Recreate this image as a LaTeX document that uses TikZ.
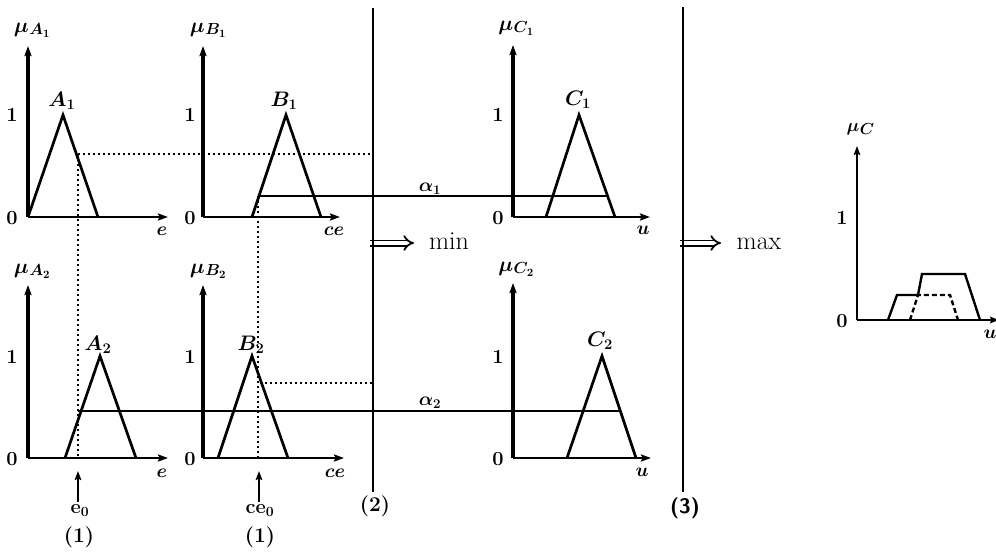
\RequirePackage{fix-cm}
\documentclass[tikz,border=0pt]{standalone}
\usetikzlibrary{arrows.meta}
\newcommand\mulab[2]{$\mu$\kern0.5pt\raisebox{-2.5pt}{\fontsize{16}{18}\selectfont$#1_{#2}$}}
\begin{document}
\begin{tikzpicture}[x=1pt,y=-1pt,
  yaxis/.style={line width=3.2pt,-{Stealth[length=10pt,width=7pt,inset=1.5pt]}},
  xaxis/.style={line width=2.6pt,-{Stealth[length=10pt,width=7pt,inset=1.5pt]}},
  smallaxis/.style={line width=2.4pt,-{Stealth[length=9pt,width=6.5pt,inset=1.5pt]}},
  mf/.style={line width=2.7pt,line join=miter},
  cut/.style={line width=2.2pt},
  guide/.style={line width=2.3pt,dash pattern=on 2.4pt off 2.6pt},
  sep/.style={line width=2.8pt},
  implies/.style={line width=1.8pt,double distance=3.4pt,-{Implies[length=7pt]}},
  inarrow/.style={line width=2.4pt,-{Stealth[length=9pt,width=6.5pt,inset=1.5pt]}},
  mu/.style={inner sep=0pt,font=\fontsize{21}{23}\selectfont\boldmath},
  num/.style={inner sep=0pt,font=\fontsize{20}{22}\selectfont\bfseries},
  ax/.style={inner sep=0pt,font=\fontsize{19}{21}\selectfont\boldmath},
  setname/.style={inner sep=0pt,font=\fontsize{21}{23}\selectfont\boldmath},
  alph/.style={inner sep=0pt,font=\fontsize{19}{21}\selectfont\boldmath},
  big/.style={inner sep=0pt,font=\fontsize{26}{29}\selectfont},
  paren/.style={inner sep=0pt,font=\fontsize{21}{23}\selectfont\bfseries}]
\fill[white] (0,0) rectangle (996,554);
\useasboundingbox (0,0) rectangle (996,554);

% ---------- coordinates ----------
% panel A1
\coordinate (A1o) at (28,217); \coordinate (A1t) at (28,46); \coordinate (A1e) at (168,217);
\coordinate (A1l) at (28,217); \coordinate (A1p) at (63,115); \coordinate (A1r) at (98,217);
% panel B1
\coordinate (B1o) at (203,217); \coordinate (B1t) at (203,46); \coordinate (B1e) at (340,217);
\coordinate (B1l) at (252,217); \coordinate (B1p) at (286,115); \coordinate (B1r) at (321,217);
% panel C1
\coordinate (C1o) at (513,217); \coordinate (C1t) at (513,45); \coordinate (C1e) at (650,217);
\coordinate (C1l) at (546,217); \coordinate (C1p) at (579,115); \coordinate (C1r) at (615,217);
% panel A2
\coordinate (A2o) at (28,458); \coordinate (A2t) at (28,285); \coordinate (A2e) at (168,458);
\coordinate (A2l) at (65,458); \coordinate (A2p) at (100,356); \coordinate (A2r) at (136,458);
% panel B2
\coordinate (B2o) at (203,458); \coordinate (B2t) at (203,285); \coordinate (B2e) at (344,458);
\coordinate (B2l) at (218,458); \coordinate (B2p) at (252,356); \coordinate (B2r) at (288,458);
% panel C2
\coordinate (C2o) at (513,458); \coordinate (C2t) at (513,283); \coordinate (C2e) at (651,458);
\coordinate (C2l) at (567,458); \coordinate (C2p) at (602,356); \coordinate (C2r) at (636,458);
% panel C
\coordinate (Co) at (857,320); \coordinate (Ct) at (857,146); \coordinate (Ce) at (999,320);

% separators
\coordinate (S2t) at (373,8); \coordinate (S2b) at (373,492);
\coordinate (S3t) at (683,7); \coordinate (S3b) at (683,492);

% implication arrows
\coordinate (m2s) at (370,243); \coordinate (m2e) at (414,243);
\coordinate (m3s) at (680,243); \coordinate (m3e) at (721,243);

% guides
\coordinate (gA1) at (78,154); \coordinate (gA1r) at (373,154); \coordinate (gA2) at (78,458);
\coordinate (gB1) at (258,196); \coordinate (gB2) at (258,458);
\coordinate (gB2h) at (260,383); \coordinate (gB2hr) at (373,383);
\coordinate (al1e) at (607,196);
\coordinate (al2s) at (78,411); \coordinate (al2e) at (620,411);

% input arrows
\coordinate (e0b) at (78,502); \coordinate (e0t) at (78,471);
\coordinate (ce0b) at (259,502); \coordinate (ce0t) at (259,471);

% ---------- axes ----------
\foreach \p in {A1,B1,C1,A2,B2,C2}{
  \draw[yaxis] (\p o) -- (\p t);
  \draw[xaxis] (\p o) -- (\p e);
}
\draw[smallaxis] (Co) -- (Ct);
\draw[smallaxis] (Co) -- (Ce);

% ---------- triangles ----------
\foreach \p in {A1,B1,C1,A2,B2,C2}{
  \draw[mf] (\p l) -- (\p p) -- (\p r);
}

% ---------- guides ----------
\draw[guide] (gA1) -- (gA1r);
\draw[guide] (gA1) -- (gA2);
\draw[guide] (gB1) -- (gB2);
\draw[guide] (gB2h) -- (gB2hr);

% ---------- alpha cuts ----------
\draw[cut] (gB1) -- (al1e);
\draw[cut] (al2s) -- (al2e);

% ---------- implication arrows ----------
\draw[implies] (m2s) -- (m2e);
\draw[implies] (m3s) -- (m3e);

% ---------- separators ----------
\draw[sep] (S2t) -- (S2b);
\draw[sep] (S3t) -- (S3b);

% ---------- input arrows ----------
\draw[inarrow] (e0b) -- (e0t);
\draw[inarrow] (ce0b) -- (ce0t);

% ---------- aggregated output ----------
\draw[mf,line width=2.4pt] (888,320) -- (897,295) -- (918,295) -- (922,274) -- (965,274) -- (980,320);
\draw[mf,line width=2.4pt,dash pattern=on 5pt off 3pt] (910,320) -- (918,295) -- (950,295) -- (958,320);

% ---------- labels ----------
\node[mu] (muA1) at (32,30) {\mulab{A}{1}};
\node[mu] (muB1) at (208,30) {\mulab{B}{1}};
\node[mu] (muC1) at (516,28) {\mulab{C}{1}};
\node[mu] (muA2) at (32,271) {\mulab{A}{2}};
\node[mu] (muB2) at (208,271) {\mulab{B}{2}};
\node[mu] (muC2) at (516,269) {\mulab{C}{2}};
\node[mu,font=\fontsize{18}{20}\selectfont\boldmath] (muC) at (860,130) {\mulab{C}{}};

\node[num] (oneA1) at (12,115) {1};  \node[num] (zeroA1) at (12,218) {0};
\node[num] (oneB1) at (190,115) {1}; \node[num] (zeroB1) at (190,218) {0};
\node[num] (oneC1) at (498,115) {1}; \node[num] (zeroC1) at (498,218) {0};
\node[num] (oneA2) at (12,357) {1};  \node[num] (zeroA2) at (12,459) {0};
\node[num] (oneB2) at (190,357) {1}; \node[num] (zeroB2) at (190,459) {0};
\node[num] (oneC2) at (498,357) {1}; \node[num] (zeroC2) at (498,459) {0};
\node[num] (oneC) at (842,218) {1};  \node[num] (zeroC) at (842,321) {0};

\node[ax] (xA1) at (162,231) {$e$};
\node[ax] (xB1) at (334,231) {$ce$};
\node[ax] (xC1) at (643,230) {$u$};
\node[ax] (xA2) at (162,473) {$e$};
\node[ax] (xB2) at (335,473) {$ce$};
\node[ax] (xC2) at (642,472) {$u$};
\node[ax] (xC) at (990,334) {$u$};

\node[setname] (nA1) at (62,101) {$A_1$};
\node[setname] (nB1) at (284,101) {$B_1$};
\node[setname] (nC1) at (578,100) {$C_1$};
\node[setname] (nA2) at (98,345) {$A_2$};
\node[setname] (nB2) at (251,345) {$B_2$};
\node[setname] (nC2) at (600,341) {$C_2$};

\node[alph] (a1) at (430,189) {$\alpha_1$};
\node[alph] (a2) at (430,403) {$\alpha_2$};

\node[big,anchor=base] (minlbl) at (449,249) {min};
\node[big,anchor=base] (maxlbl) at (759,249) {max};

\node[num] (e0) at (80,511) {$\mathbf{e}_{\mathbf{0}}$};
\node[num] (ce0) at (260,511) {$\mathbf{ce}_{\mathbf{0}}$};
\node[paren] (one1) at (79,537) {(1)};
\node[paren] (one2) at (260,537) {(1)};
\node[paren] (two) at (375,506) {(2)};
\node[paren,font=\fontsize{21}{23}\selectfont\sffamily\bfseries] (three) at (685,508) {(3)};
\end{tikzpicture}
\end{document}
